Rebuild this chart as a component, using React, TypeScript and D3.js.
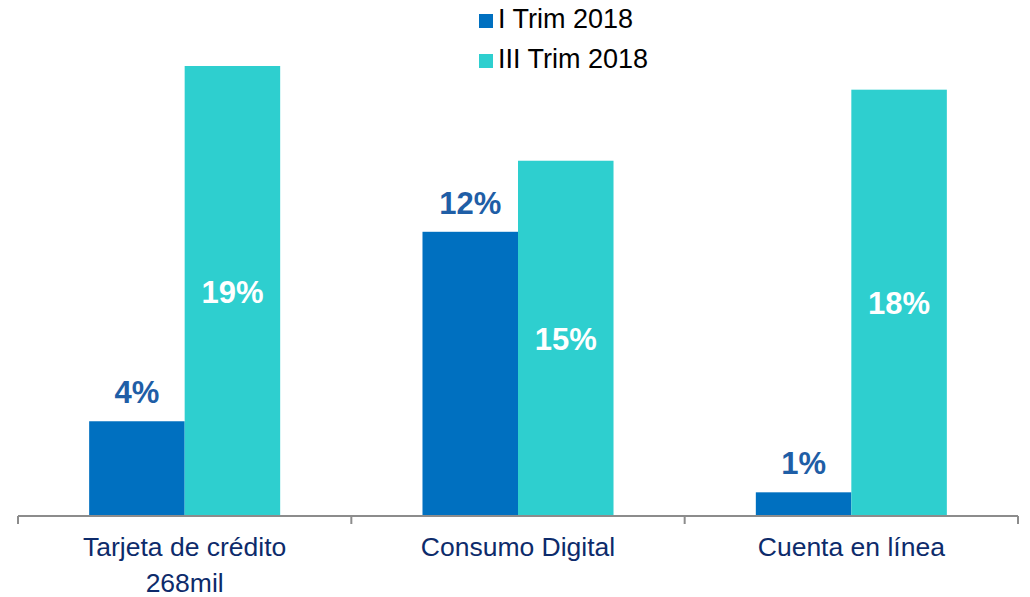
import React from "react";
import * as d3 from "d3";

const categories = ["Tarjeta de crédito\n268mil", "Consumo Digital", "Cuenta en línea"];
const seriesNames = ["I Trim 2018", "III Trim 2018"];
const trim1 = [4, 12, 1];
const trim3 = [19, 15, 18];
const seriesColors = ["#0070C0", "#2ECFCF"];

const W = 1030;
const H = 597;
const baseY = 516;
const pxPerUnit = 450 / 19;

export default function App() {
  const x0 = d3.scaleBand<string>().domain(categories).range([18, 1018]).padding(0);
  const x1 = d3
    .scaleBand<string>()
    .domain(seriesNames)
    .range([0, x0.bandwidth()])
    .paddingInner(0)
    .paddingOuter(0.745);
  const y = d3.scaleLinear().domain([0, 20]).range([baseY, baseY - 20 * pxPerUnit]);
  const values = [trim1, trim3];
  const font = "'Liberation Sans', Arial, sans-serif";
  const ticks = [18, ...categories.map((c) => (x0(c) as number) + x0.bandwidth())];

  return (
    <svg width={W} height={H} style={{ position: "absolute", left: 0, top: 0, background: "#fff" }} fontFamily={font}>
      {categories.map((c, ci) =>
        seriesNames.map((s, si) => {
          const v = values[si][ci];
          const bx = (x0(c) as number) + (x1(s) as number);
          return (
            <rect key={c + s} x={bx} y={y(v)} width={x1.bandwidth()} height={baseY - y(v)} fill={seriesColors[si]} />
          );
        })
      )}
      {categories.map((c, ci) => {
        const s0 = seriesNames[0];
        const s1 = seriesNames[1];
        const bx0 = (x0(c) as number) + (x1(s0) as number) + x1.bandwidth() / 2;
        const bx1 = (x0(c) as number) + (x1(s1) as number) + x1.bandwidth() / 2;
        const v0 = trim1[ci];
        const v1 = trim3[ci];
        return (
          <g key={"lbl" + c} fontWeight="bold" fontSize={31} textAnchor="middle">
            <text x={bx0} y={y(v0) - 18} fill="#1F5EA6">{v0}%</text>
            <text x={bx1} y={(y(v1) + baseY) / 2 + 11.5} fill="#ffffff">{v1}%</text>
          </g>
        );
      })}
      <line x1={18} x2={1018} y1={baseY} y2={baseY} stroke="#8C8C8C" strokeWidth={2} />
      {ticks.map((t, i) => (
        <line key={"t" + i} x1={t} x2={t} y1={baseY} y2={baseY + 8} stroke="#8C8C8C" strokeWidth={2} />
      ))}
      {categories.map((c) => {
        const cx = (x0(c) as number) + x0.bandwidth() / 2;
        return (
          <text key={"c" + c} x={cx} y={556} fontSize={26.5} fill="#0D2B6B" textAnchor="middle">
            {c.split("\n").map((line, li) => (
              <tspan key={li} x={cx} dy={li === 0 ? 0 : 36}>{line}</tspan>
            ))}
          </text>
        );
      })}
      {seriesNames.map((s, i) => (
        <g key={"leg" + s}>
          <rect x={479} y={14 + i * 40} width={14} height={14} fill={seriesColors[i]} />
          <text x={498} y={28 + i * 40} fontSize={27} fill="#000">{s}</text>
        </g>
      ))}
    </svg>
  );
}
